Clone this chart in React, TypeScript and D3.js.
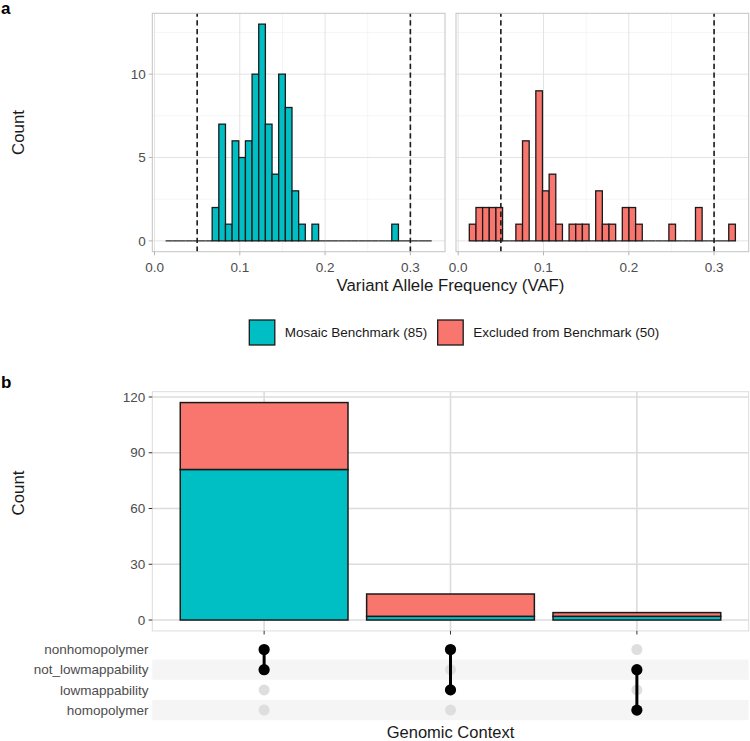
import React from "react";
import * as d3 from "d3";

// ---------- Data ----------
const binStart = 0.013;
const binWidth = 0.0078;
const mosaicCounts = [0,0,0,0,0,0,0,2,7,1,6,5,6,10,13,7,4,10,8,3,1,0,1,0,0,0,0,0,0,0,0,0,0,0,1,0,0,0,0,0];
const excludedCounts = [1,2,2,2,2,0,0,1,6,0,9,3,4,1,0,1,1,1,0,3,1,1,0,2,2,1,0,0,0,0,1,0,0,0,2,0,0,0,0,1];
const vafThresholds = [0.05, 0.3];
const xTicksTop = [0, 0.1, 0.2, 0.3];
const xMinorTop = [0.05, 0.15, 0.25];
const yTicksTop = [0, 5, 10];
const yMinorTop = [2.5, 7.5, 12.5];

const seriesNames = ["Mosaic Benchmark (85)", "Excluded from Benchmark (50)"];
const seriesColors = ["#00BFC4", "#F8766D"];

const setNames = ["nonhomopolymer", "not_lowmappability", "lowmappability", "homopolymer"];
const intersections = [
  ["nonhomopolymer", "not_lowmappability"],
  ["nonhomopolymer", "lowmappability"],
  ["not_lowmappability", "homopolymer"],
];
const intersectionIds = ["i1", "i2", "i3"];
const mosaicBar = [81, 2, 2];
const excludedBar = [36, 12, 2];
const yTicksBottom = [0, 30, 60, 90, 120];

// ---------- Layout ----------
const W = 750, H = 741;
const FONT = "'Liberation Sans', Arial, Helvetica, sans-serif";
const topPanels = [
  { x0: 152.3, x1: 445, counts: mosaicCounts, color: seriesColors[0] },
  { x0: 456, x1: 748.7, counts: excludedCounts, color: seriesColors[1] },
];
const topY0 = 13.3, topY1 = 251.7;
const botX0 = 152.3, botX1 = 748.7, botY0 = 391.7, botY1 = 630.9;
const matY0 = 639.4, matY1 = 720.2;

function TopPanel({ p, showY }: any) {
  const nb = p.counts.length;
  const binEnd = binStart + nb * binWidth;
  const rng = binEnd - binStart;
  const x = d3.scaleLinear().domain([binStart - 0.05 * rng, binEnd + 0.05 * rng]).range([p.x0, p.x1]);
  const maxC = d3.max([...mosaicCounts, ...excludedCounts]) as number;
  const y = d3.scaleLinear().domain([-0.05 * maxC, maxC * 1.05]).range([topY1, topY0]);
  const bins = p.counts.map((c: number, i: number) => ({ c, a: binStart + i * binWidth, b: binStart + (i + 1) * binWidth }));
  return (
    <g>
      {yMinorTop.map((t) => (
        <line key={"ym" + t} x1={p.x0} x2={p.x1} y1={y(t)} y2={y(t)} stroke="#EFEFEF" strokeWidth={0.6} />
      ))}
      {xMinorTop.map((t) => (
        <line key={"xm" + t} x1={x(t)} x2={x(t)} y1={topY0} y2={topY1} stroke="#EFEFEF" strokeWidth={0.6} />
      ))}
      {yTicksTop.map((t) => (
        <line key={"yg" + t} x1={p.x0} x2={p.x1} y1={y(t)} y2={y(t)} stroke="#E3E3E3" strokeWidth={1} />
      ))}
      {xTicksTop.map((t) => (
        <line key={"xg" + t} x1={x(t)} x2={x(t)} y1={topY0} y2={topY1} stroke="#E3E3E3" strokeWidth={1} />
      ))}
      {bins.map((b: any, i: number) =>
        b.c > 0 ? (
          <rect key={i} x={x(b.a)} y={y(b.c)} width={x(b.b) - x(b.a)} height={y(0) - y(b.c)} fill={p.color} stroke="#1a1a1a" strokeWidth={1.3} />
        ) : (
          <line key={i} x1={x(b.a)} x2={x(b.b)} y1={y(0)} y2={y(0)} stroke="#333" strokeWidth={1.3} />
        )
      )}
      {vafThresholds.map((t) => (
        <line key={"v" + t} x1={x(t)} x2={x(t)} y1={topY1} y2={topY0} stroke="#1a1a1a" strokeWidth={1.6} strokeDasharray="5.3 3.4" />
      ))}
      <rect x={p.x0} y={topY0} width={p.x1 - p.x0} height={topY1 - topY0} fill="none" stroke="#C4C4C4" strokeWidth={1} />
      {xTicksTop.map((t) => (
        <g key={"xt" + t}>
          <line x1={x(t)} x2={x(t)} y1={topY1} y2={topY1 + 3.6} stroke="#B3B3B3" strokeWidth={1} />
          <text x={x(t)} y={272} textAnchor="middle" fontSize={13.5} fill="#4D4D4D" fontFamily={FONT}>{d3.format(".1f")(t)}</text>
        </g>
      ))}
      {showY && yTicksTop.map((t) => (
        <g key={"yt" + t}>
          <line x1={p.x0 - 3.6} x2={p.x0} y1={y(t)} y2={y(t)} stroke="#B3B3B3" strokeWidth={1} />
          <text x={p.x0 - 6.5} y={y(t)} dy="0.35em" textAnchor="end" fontSize={13.5} fill="#4D4D4D" fontFamily={FONT}>{t}</text>
        </g>
      ))}
    </g>
  );
}

function Bottom() {
  const x = d3.scalePoint<string>().domain(intersectionIds).range([botX0, botX1]).padding(0.6);
  const step = x.step();
  const bw = step * 0.9;
  const totals = mosaicBar.map((m, i) => m + excludedBar[i]);
  const maxT = d3.max(totals) as number;
  const y = d3.scaleLinear().domain([-0.05 * maxT, maxT * 1.05]).range([botY1, botY0]);
  const rows = d3.scaleBand<string>().domain(setNames).range([matY0, matY1]);
  const rc = (s: string) => (rows(s) as number) + rows.bandwidth() / 2;
  return (
    <g>
      {setNames.map((s, i) =>
        i % 2 === 1 ? <rect key={"st" + s} x={botX0} y={rows(s)} width={botX1 - botX0} height={rows.bandwidth()} fill="#F5F5F5" /> : null
      )}
      {yTicksBottom.map((t) => (
        <line key={"yg" + t} x1={botX0} x2={botX1} y1={y(t)} y2={y(t)} stroke="#DCDCDC" strokeWidth={1.6} />
      ))}
      {intersectionIds.map((id) => (
        <line key={"xg" + id} x1={x(id)} x2={x(id)} y1={botY0} y2={botY1} stroke="#DCDCDC" strokeWidth={1.6} />
      ))}
      {intersectionIds.map((id, i) => {
        const cx = x(id) as number;
        return (
          <g key={"bar" + id}>
            <rect x={cx - bw / 2} y={y(mosaicBar[i])} width={bw} height={y(0) - y(mosaicBar[i])} fill={seriesColors[0]} stroke="#1a1a1a" strokeWidth={1.5} />
            <rect x={cx - bw / 2} y={y(totals[i])} width={bw} height={y(mosaicBar[i]) - y(totals[i])} fill={seriesColors[1]} stroke="#1a1a1a" strokeWidth={1.5} />
          </g>
        );
      })}
      <rect x={botX0} y={botY0} width={botX1 - botX0} height={botY1 - botY0} fill="none" stroke="#DCDCDC" strokeWidth={1} />
      {yTicksBottom.map((t) => (
        <g key={"yt" + t}>
          <line x1={botX0 - 3.6} x2={botX0} y1={y(t)} y2={y(t)} stroke="#333" strokeWidth={1} />
          <text x={botX0 - 7} y={y(t)} dy="0.35em" textAnchor="end" fontSize={13.5} fill="#4D4D4D" fontFamily={FONT}>{t}</text>
        </g>
      ))}
      {intersectionIds.map((id) => (
        <line key={"xt" + id} x1={x(id)} x2={x(id)} y1={botY1} y2={botY1 + 3.6} stroke="#333" strokeWidth={1} />
      ))}
      {/* matrix */}
      {setNames.map((s) => (
        <text key={"lab" + s} x={148.5} y={rc(s)} dy="0.35em" textAnchor="end" fontSize={13.5} fill="#4D4D4D" fontFamily={FONT}>{s}</text>
      ))}
      {intersectionIds.map((id, i) => {
        const cx = x(id) as number;
        const members = intersections[i];
        const ys = members.map(rc);
        return (
          <g key={"m" + id}>
            {setNames.map((s) => (
              <circle key={s} cx={cx} cy={rc(s)} r={5.5} fill="#DEDEDE" />
            ))}
            <line x1={cx} x2={cx} y1={d3.min(ys)} y2={d3.max(ys)} stroke="#000" strokeWidth={3} />
            {members.map((s) => (
              <circle key={"b" + s} cx={cx} cy={rc(s)} r={5.6} fill="#000" />
            ))}
          </g>
        );
      })}
      <text x={(botX0 + botX1) / 2} y={737.5} textAnchor="middle" fontSize={16.5} fill="#1A1A1A" fontFamily={FONT}>Genomic Context</text>
      <text transform={`translate(24,493) rotate(-90)`} textAnchor="middle" fontSize={16.8} fill="#1A1A1A" fontFamily={FONT}>Count</text>
    </g>
  );
}

export default function App() {
  return (
    <svg width={W} height={H} style={{ position: "absolute", left: 0, top: 0, background: "#fff" }}>
      <rect width={W} height={H} fill="#fff" />
      <text x={1} y={14} fontSize={17} fontWeight="bold" fill="#000" fontFamily={FONT}>a</text>
      <text x={1} y={388} fontSize={17} fontWeight="bold" fill="#000" fontFamily={FONT}>b</text>
      <TopPanel p={topPanels[0]} showY={true} />
      <TopPanel p={topPanels[1]} showY={false} />
      <text transform={`translate(24,${(topY0 + topY1) / 2}) rotate(-90)`} textAnchor="middle" fontSize={16.8} fill="#1A1A1A" fontFamily={FONT}>Count</text>
      <text x={(topPanels[0].x0 + topPanels[1].x1) / 2} y={291} textAnchor="middle" fontSize={16.8} fill="#1A1A1A" fontFamily={FONT}>Variant Allele Frequency (VAF)</text>
      {/* legend */}
      {seriesNames.map((n, i) => {
        const kx = [249.3, 437.7][i];
        return (
          <g key={n}>
            <rect x={kx} y={320} width={25.5} height={25} fill={seriesColors[i]} stroke="#1a1a1a" strokeWidth={1.3} />
            <text x={kx + 35.5} y={332.5} dy="0.35em" fontSize={13.5} fill="#1A1A1A" fontFamily={FONT}>{n}</text>
          </g>
        );
      })}
      <Bottom />
    </svg>
  );
}
